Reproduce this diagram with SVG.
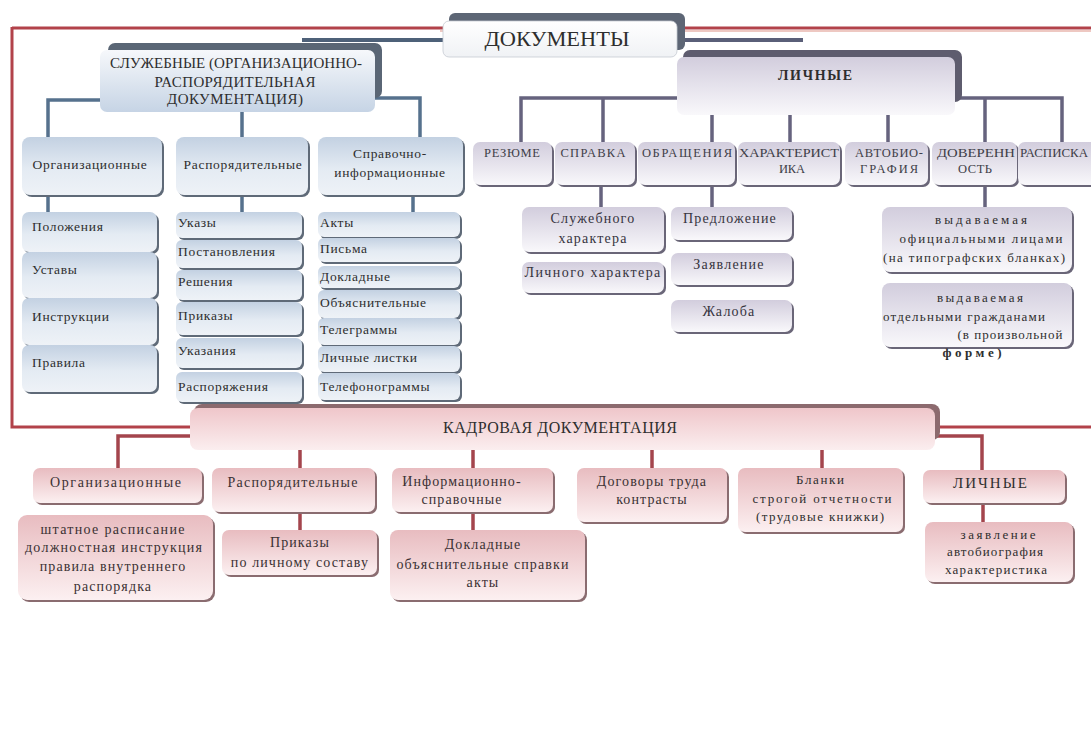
<svg xmlns="http://www.w3.org/2000/svg" width="1091" height="751" viewBox="0 0 1091 751">
<defs>
<linearGradient id="gBlue" x1="0" y1="0" x2="0" y2="1"><stop offset="0" stop-color="#c3d1e2"/><stop offset="0.55" stop-color="#e4ebf3"/><stop offset="1" stop-color="#eef2f7"/></linearGradient>
<linearGradient id="gBlueBig" x1="0" y1="0" x2="0" y2="1"><stop offset="0" stop-color="#f6f8fb"/><stop offset="1" stop-color="#c6d4e5"/></linearGradient>
<linearGradient id="gPurple" x1="0" y1="0" x2="0" y2="1"><stop offset="0" stop-color="#d2cddd"/><stop offset="1" stop-color="#f9f8fb"/></linearGradient>
<linearGradient id="gPink" x1="0" y1="0" x2="0" y2="1"><stop offset="0" stop-color="#e8bcc0"/><stop offset="1" stop-color="#fcf0f1"/></linearGradient>
<linearGradient id="gPinkBig" x1="0" y1="0" x2="0" y2="1"><stop offset="0" stop-color="#efc6ca"/><stop offset="1" stop-color="#fbeeef"/></linearGradient>
<linearGradient id="gWhite" x1="0" y1="0" x2="0" y2="1"><stop offset="0" stop-color="#ffffff"/><stop offset="1" stop-color="#f0f2f5"/></linearGradient>
</defs>
<style>
text{font-family:"Liberation Serif","Times New Roman",serif;fill:#2e2e2e;}
.c{text-anchor:middle;}
.b13{font-size:13.5px;letter-spacing:0.7px;}
.cap{font-size:12.5px;fill:#3e3e48;}
.p14{font-size:14px;letter-spacing:1.2px;fill:#36343e;}
.s11{font-size:13px;fill:#2e2e2e;}
.k14{font-size:14px;letter-spacing:1.1px;fill:#3a3133;}
.shB{fill:#5f6a78;}
.shP{fill:#6a6678;}
.shK{fill:#8a6c70;}
.bl{fill:url(#gBlue);}
.pu{fill:url(#gPurple);}
.pk{fill:url(#gPink);}
.cb{fill:none;stroke:#56718d;stroke-width:3.5;}
.cp{fill:none;stroke:#66637e;stroke-width:3.5;}
.cr{fill:none;stroke:#a4454d;stroke-width:3.5;}
</style>
<rect width="1091" height="751" fill="#ffffff"/>

<g id="connectors">
<path d="M12,28 H1091" fill="none" stroke="#b2424a" stroke-width="3"/>
<path d="M440,31 H1091" fill="none" stroke="#e8b6ae" stroke-width="1.5"/>
<path d="M12,27 V427 H1091" fill="none" stroke="#b2424a" stroke-width="3"/>
<path d="M302,40 H443" fill="none" stroke="#4e6179" stroke-width="4"/>
<path d="M677,40 H803" fill="none" stroke="#5a5f78" stroke-width="4"/>
<path class="cb" d="M100,100 H48 V137 M242,112 V137 M375,98 H420 V137 M48,195 V212 M242,195 V212 M413,195 V212"/>
<path class="cp" d="M677,98 H521 V142 M603,98 V142 M712,115 V142 M790,115 V142 M888,115 V142 M955,98 H1062 V142 M985,98 V142 M601,185 V207 M712,185 V207 M985,185 V207"/>
<path class="cr" d="M190,436 H118 V468 M300,450 V468 M473,450 V468 M652,450 V468 M822,450 V468 M935,436 H982 V470 M300,512 V530 M473,512 V530 M983,503 V522"/>
</g>

<g id="n-docs">
<rect x="449" y="13" width="236" height="37" rx="6" fill="#5d6675"/>
<rect x="443" y="21" width="234" height="36" rx="6" fill="url(#gWhite)" stroke="#c5cad2" stroke-width="0.8"/>
<text x="557" y="46" class="c" font-size="21" textLength="145" lengthAdjust="spacingAndGlyphs" fill="#2a2a2a">ДОКУМЕНТЫ</text>
</g>

<g id="n-sluzh">
<rect x="108" y="43" width="274" height="55" rx="7" fill="#5a6675"/>
<rect x="100" y="50" width="275" height="62" rx="7" fill="url(#gBlueBig)"/>
<text x="236" y="68" class="c" font-size="15" textLength="252" lengthAdjust="spacing" fill="#363b44">СЛУЖЕБНЫЕ (ОРГАНИЗАЦИОННО-</text>
<text x="235" y="87" class="c" font-size="15" textLength="161" lengthAdjust="spacing" fill="#363b44">РАСПОРЯДИТЕЛЬНАЯ</text>
<text x="235" y="104" class="c" font-size="15" textLength="136" lengthAdjust="spacing" fill="#363b44">ДОКУМЕНТАЦИЯ)</text>
</g>

<g id="n-lichnye">
<rect x="683" y="50" width="279" height="52" rx="7" fill="#5e5c6e"/>
<rect x="677" y="57" width="278" height="58" rx="7" fill="url(#gPurple)"/>
<text x="815" y="80" class="c" font-size="14" font-weight="bold" textLength="74" lengthAdjust="spacing" fill="#454152">ЛИЧНЫЕ</text>
</g>

<g id="n-org">
<rect x="24" y="139" width="140" height="58" rx="8" class="shB"/>
<rect x="22" y="137" width="140" height="58" rx="8" class="bl"/>
<text x="90" y="169" class="c b13">Организационные</text>
</g>
<g id="n-rasp">
<rect x="178" y="139" width="132" height="58" rx="8" class="shB"/>
<rect x="176" y="137" width="132" height="58" rx="8" class="bl"/>
<text x="243" y="169" class="c b13">Распорядительные</text>
</g>
<g id="n-sprav">
<rect x="320" y="139" width="145" height="58" rx="8" class="shB"/>
<rect x="318" y="137" width="145" height="58" rx="8" class="bl"/>
<text x="390" y="158" class="c b13">Справочно-</text>
<text x="390" y="177" class="c b13">информационные</text>
</g>

<g id="n-polozh"><rect x="24" y="214" width="135" height="40" rx="7" class="shB"/><rect x="22" y="212" width="135" height="40" rx="7" class="bl"/><text x="32" y="231" class="b13">Положения</text></g>
<g id="n-ustavy"><rect x="24" y="254" width="135" height="46" rx="7" class="shB"/><rect x="22" y="252" width="135" height="46" rx="7" class="bl"/><text x="32" y="274" class="b13">Уставы</text></g>
<g id="n-instr"><rect x="24" y="300" width="135" height="47" rx="7" class="shB"/><rect x="22" y="298" width="135" height="47" rx="7" class="bl"/><text x="32" y="321" class="b13">Инструкции</text></g>
<g id="n-pravila"><rect x="24" y="347" width="135" height="47" rx="7" class="shB"/><rect x="22" y="345" width="135" height="47" rx="7" class="bl"/><text x="32" y="367" class="b13">Правила</text></g>

<g id="n-ukazy"><rect x="178" y="214" width="126" height="26" rx="6" class="shB"/><rect x="176" y="212" width="126" height="26" rx="6" class="bl"/><text x="178" y="227" class="b13">Указы</text></g>
<g id="n-postan"><rect x="178" y="242" width="126" height="28" rx="6" class="shB"/><rect x="176" y="240" width="126" height="28" rx="6" class="bl"/><text x="178" y="256" class="b13">Постановления</text></g>
<g id="n-resh"><rect x="178" y="272" width="126" height="30" rx="6" class="shB"/><rect x="176" y="270" width="126" height="30" rx="6" class="bl"/><text x="178" y="286" class="b13">Решения</text></g>
<g id="n-prik"><rect x="178" y="304" width="126" height="33" rx="6" class="shB"/><rect x="176" y="302" width="126" height="33" rx="6" class="bl"/><text x="178" y="320" class="b13">Приказы</text></g>
<g id="n-ukaz"><rect x="178" y="340" width="126" height="30" rx="6" class="shB"/><rect x="176" y="338" width="126" height="30" rx="6" class="bl"/><text x="178" y="355" class="b13">Указания</text></g>
<g id="n-raspor"><rect x="178" y="374" width="126" height="30" rx="6" class="shB"/><rect x="176" y="372" width="126" height="30" rx="6" class="bl"/><text x="178" y="391" class="b13">Распоряжения</text></g>

<g id="n-akty"><rect x="320" y="214" width="142" height="25" rx="6" class="shB"/><rect x="318" y="212" width="142" height="25" rx="6" class="bl"/><text x="320" y="227" class="b13">Акты</text></g>
<g id="n-pisma"><rect x="320" y="240" width="142" height="24" rx="6" class="shB"/><rect x="318" y="238" width="142" height="24" rx="6" class="bl"/><text x="320" y="253" class="b13">Письма</text></g>
<g id="n-dokl"><rect x="320" y="268" width="142" height="22" rx="6" class="shB"/><rect x="318" y="266" width="142" height="22" rx="6" class="bl"/><text x="320" y="281" class="b13">Докладные</text></g>
<g id="n-obyasn"><rect x="320" y="292" width="142" height="28" rx="6" class="shB"/><rect x="318" y="290" width="142" height="28" rx="6" class="bl"/><text x="320" y="307" class="b13">Объяснительные</text></g>
<g id="n-telegr"><rect x="320" y="320" width="142" height="27" rx="6" class="shB"/><rect x="318" y="318" width="142" height="27" rx="6" class="bl"/><text x="320" y="334" class="b13">Телеграммы</text></g>
<g id="n-listki"><rect x="320" y="348" width="142" height="26" rx="6" class="shB"/><rect x="318" y="346" width="142" height="26" rx="6" class="bl"/><text x="320" y="362" class="b13">Личные листки</text></g>
<g id="n-telef"><rect x="320" y="375" width="142" height="27" rx="6" class="shB"/><rect x="318" y="373" width="142" height="27" rx="6" class="bl"/><text x="320" y="391" class="b13">Телефонограммы</text></g>

<g id="n-rezyume"><rect x="475" y="144" width="79" height="43" rx="7" class="shP"/><rect x="473" y="142" width="79" height="43" rx="7" class="pu"/><text x="512" y="157" class="c cap" textLength="56" lengthAdjust="spacing">РЕЗЮМЕ</text></g>
<g id="n-spravka"><rect x="557" y="144" width="80" height="43" rx="7" class="shP"/><rect x="555" y="142" width="80" height="43" rx="7" class="pu"/><text x="593" y="157" class="c cap" textLength="65" lengthAdjust="spacing">СПРАВКА</text></g>
<g id="n-obrash"><rect x="640" y="144" width="97" height="43" rx="7" class="shP"/><rect x="638" y="142" width="97" height="43" rx="7" class="pu"/><text x="687" y="157" class="c cap" textLength="90" lengthAdjust="spacing">ОБРАЩЕНИЯ</text></g>
<g id="n-harakt"><rect x="740" y="144" width="102" height="43" rx="7" class="shP"/><rect x="738" y="142" width="102" height="43" rx="7" class="pu"/><text x="789" y="157" class="c cap" textLength="100" lengthAdjust="spacingAndGlyphs">ХАРАКТЕРИСТ</text><text x="792" y="173" class="c cap" textLength="26" lengthAdjust="spacing">ИКА</text></g>
<g id="n-avtobio"><rect x="847" y="144" width="83" height="43" rx="7" class="shP"/><rect x="845" y="142" width="83" height="43" rx="7" class="pu"/><text x="889" y="157" class="c cap" textLength="68" lengthAdjust="spacing">АВТОБИО-</text><text x="889" y="173" class="c cap" textLength="58" lengthAdjust="spacing">ГРАФИЯ</text></g>
<g id="n-dover"><rect x="934" y="144" width="85" height="43" rx="7" class="shP"/><rect x="932" y="142" width="85" height="43" rx="7" class="pu"/><text x="976" y="157" class="c cap" textLength="78" lengthAdjust="spacingAndGlyphs">ДОВЕРЕНН</text><text x="975" y="173" class="c cap" textLength="34" lengthAdjust="spacing">ОСТЬ</text></g>
<g id="n-raspiska"><rect x="1020" y="144" width="80" height="43" rx="7" class="shP"/><rect x="1018" y="142" width="80" height="43" rx="7" class="pu"/><text x="1020" y="157" class="cap" textLength="68" lengthAdjust="spacingAndGlyphs">РАСПИСКА</text></g>

<g id="n-sluzhharakt"><rect x="524" y="209" width="142" height="45" rx="7" class="shP"/><rect x="522" y="207" width="142" height="45" rx="7" class="pu"/><text x="593" y="223" class="c p14">Служебного</text><text x="593" y="243" class="c p14">характера</text></g>
<g id="n-lichharakt"><rect x="524" y="264" width="142" height="31" rx="7" class="shP"/><rect x="522" y="262" width="142" height="31" rx="7" class="pu"/><text x="593" y="277" class="c p14" textLength="137" lengthAdjust="spacing">Личного характера</text></g>
<g id="n-predl"><rect x="673" y="209" width="121" height="33" rx="7" class="shP"/><rect x="671" y="207" width="121" height="33" rx="7" class="pu"/><text x="730" y="223" class="c p14">Предложение</text></g>
<g id="n-zayavl"><rect x="673" y="255" width="121" height="32" rx="7" class="shP"/><rect x="671" y="253" width="121" height="32" rx="7" class="pu"/><text x="729" y="269" class="c p14">Заявление</text></g>
<g id="n-zhaloba"><rect x="673" y="302" width="121" height="32" rx="7" class="shP"/><rect x="671" y="300" width="121" height="32" rx="7" class="pu"/><text x="729" y="316" class="c p14">Жалоба</text></g>
<g id="n-vyd1"><rect x="884" y="209" width="190" height="65" rx="8" class="shP"/><rect x="882" y="207" width="190" height="65" rx="8" class="pu"/>
<text x="981" y="224" class="c s11" textLength="92" lengthAdjust="spacing">выдаваемая</text>
<text x="981" y="243" class="c s11" textLength="163" lengthAdjust="spacing">официальными лицами</text>
<text x="974" y="262" class="c s11" textLength="182" lengthAdjust="spacing">(на типографских бланках)</text></g>
<g id="n-vyd2"><rect x="884" y="285" width="190" height="64" rx="8" class="shP"/><rect x="882" y="283" width="190" height="64" rx="8" class="pu"/>
<text x="980" y="302" class="c s11" textLength="86" lengthAdjust="spacing">выдаваемая</text>
<text x="964" y="321" class="c s11" textLength="162" lengthAdjust="spacing">отдельными гражданами</text>
<text x="1010" y="339" class="c s11" textLength="105" lengthAdjust="spacing">(в произвольной</text>
<text x="972" y="357" class="c s11" font-weight="bold" textLength="59" lengthAdjust="spacing">форме)</text></g>

<g id="n-kadr">
<rect x="194" y="404" width="746" height="36" rx="8" fill="#8c6a6e"/>
<rect x="190" y="408" width="745" height="42" rx="8" fill="url(#gPinkBig)"/>
<text x="560" y="433" class="c" font-size="16" textLength="234" lengthAdjust="spacing" fill="#3a3133">КАДРОВАЯ ДОКУМЕНТАЦИЯ</text>
</g>

<g id="n-korg"><rect x="35" y="470" width="169" height="35" rx="7" class="shK"/><rect x="33" y="468" width="169" height="35" rx="7" class="pk"/><text x="116" y="487" class="c k14" textLength="132" lengthAdjust="spacing">Организационные</text></g>
<g id="n-krasp"><rect x="214" y="470" width="163" height="44" rx="7" class="shK"/><rect x="212" y="468" width="163" height="44" rx="7" class="pk"/><text x="293" y="487" class="c k14" textLength="131" lengthAdjust="spacing">Распорядительные</text></g>
<g id="n-kinf"><rect x="394" y="470" width="161" height="44" rx="7" class="shK"/><rect x="392" y="468" width="161" height="44" rx="7" class="pk"/><text x="462" y="486" class="c k14">Информационно-</text><text x="462" y="504" class="c k14">справочные</text></g>
<g id="n-kdog"><rect x="579" y="470" width="150" height="54" rx="7" class="shK"/><rect x="577" y="468" width="150" height="54" rx="7" class="pk"/><text x="652" y="486" class="c k14">Договоры труда</text><text x="652" y="504" class="c k14">контрасты</text></g>
<g id="n-kblanki"><rect x="740" y="470" width="165" height="64" rx="7" class="shK"/><rect x="738" y="468" width="165" height="64" rx="7" class="pk"/>
<text x="820" y="484" class="c s11" textLength="48" lengthAdjust="spacing">Бланки</text>
<text x="822" y="503" class="c s11" textLength="139" lengthAdjust="spacing">строгой отчетности</text>
<text x="820" y="521" class="c s11" textLength="128" lengthAdjust="spacing">(трудовые книжки)</text></g>
<g id="n-klich"><rect x="925" y="472" width="142" height="33" rx="7" class="shK"/><rect x="923" y="470" width="142" height="33" rx="7" class="pk"/><text x="990" y="488" class="c" font-size="15" textLength="74" lengthAdjust="spacing" fill="#3a3133">ЛИЧНЫЕ</text></g>

<g id="n-kshtat"><rect x="20" y="517" width="195" height="85" rx="9" class="shK"/><rect x="18" y="515" width="195" height="85" rx="9" class="pk"/>
<text x="113" y="534" class="c k14" textLength="145" lengthAdjust="spacing">штатное расписание</text>
<text x="114" y="552" class="c k14" textLength="178" lengthAdjust="spacing">должностная инструкция</text>
<text x="113" y="571" class="c k14">правила внутреннего</text>
<text x="113" y="591" class="c k14">распорядка</text></g>
<g id="n-kprik"><rect x="224" y="532" width="155" height="45" rx="7" class="shK"/><rect x="222" y="530" width="155" height="45" rx="7" class="pk"/><text x="300" y="547" class="c k14">Приказы</text><text x="300" y="567" class="c k14">по личному составу</text></g>
<g id="n-kdokl"><rect x="392" y="532" width="195" height="70" rx="8" class="shK"/><rect x="390" y="530" width="195" height="70" rx="8" class="pk"/><text x="483" y="549" class="c k14">Докладные</text><text x="483" y="569" class="c k14">объяснительные справки</text><text x="483" y="587" class="c k14">акты</text></g>
<g id="n-kzayav"><rect x="927" y="524" width="148" height="60" rx="8" class="shK"/><rect x="925" y="522" width="148" height="60" rx="8" class="pk"/>
<text x="998" y="539" class="c s11" textLength="75" lengthAdjust="spacing">заявление</text>
<text x="995" y="556" class="c s11" textLength="96" lengthAdjust="spacing">автобиография</text>
<text x="996" y="574" class="c s11" textLength="102" lengthAdjust="spacing">характеристика</text></g>
</svg>
